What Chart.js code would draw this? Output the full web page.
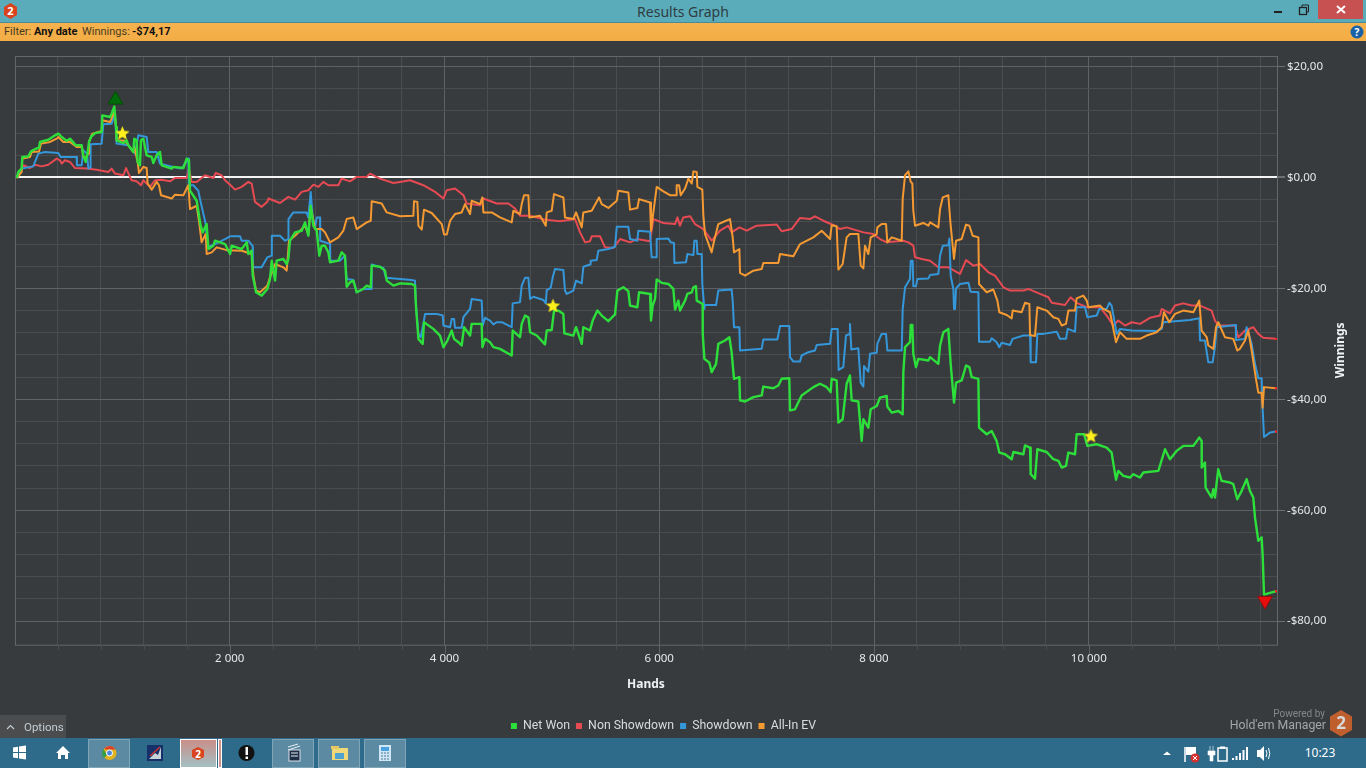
<!DOCTYPE html>
<html>
<head>
<meta charset="utf-8">
<title>Results Graph</title>
<script src="https://cdn.jsdelivr.net/npm/chart.js@4/dist/chart.umd.min.js"></script>
<style>
html,body{margin:0;padding:0;width:1366px;height:768px;overflow:hidden;background:#383b3e;font-family:"Noto Sans",sans-serif}
.abs{position:absolute}
#titlebar{left:0;top:0;width:1366px;height:22px;background:#5aacbb;border-bottom:1px solid #4b8a97}
#ttl{left:0;top:2px;width:1366px;text-align:center;font-size:14px;line-height:20px;color:#2f3d42}
#close{left:1318px;top:0;width:45px;height:19px;background:#c75050}
#filter{left:0;top:23px;width:1366px;height:18px;background:linear-gradient(#f5b24e,#f3ad45);font-family:Roboto,sans-serif;font-size:11px;line-height:18px;color:#4a3a20}
#filter b{color:#111}
#filter span{position:absolute;top:0;white-space:nowrap}
#chart{position:absolute;left:0;top:41px}
#options{left:0;top:715px;width:66px;height:23px;background:#4a4c4e;color:#c4ccd2;font-family:Roboto,sans-serif;font-size:11.5px;line-height:25px}
#options span{position:absolute;left:24px}
#pow{left:1130px;top:707px;width:195px;text-align:right;font-family:Roboto,sans-serif;font-size:10px;line-height:13px;color:#85888a}
#hem{left:1130px;top:717px;width:196px;text-align:right;font-family:Roboto,sans-serif;font-size:12.3px;line-height:17px;color:#a3a6a8}
#task{left:0;top:738px;width:1366px;height:30px;background:#2e6b8b}
.tb{position:absolute;top:1px;height:27px;border:1px solid #7fa5b8;background:#5b8aa2}
#clock{left:1300px;top:744px;width:40px;text-align:center;font-size:12px;line-height:18px;color:#fff}
</style>
</head>
<body>
<div id="titlebar" class="abs"></div>
<svg class="abs" style="left:3px;top:3px" width="15" height="16" viewBox="0 0 15 16"><polygon points="7.5,0 14,4 14,12 7.5,16 1,12 1,4" fill="#d9431e"/><text x="7.5" y="12" font-size="11" font-weight="bold" text-anchor="middle" fill="#fff" font-family="Noto Sans">2</text></svg>
<div id="ttl" class="abs">Results Graph</div>
<svg class="abs" style="left:1270px;top:4px" width="45" height="12"><rect x="4" y="7" width="8" height="2" fill="#222"/><rect x="29.5" y="3.5" width="7" height="7" fill="none" stroke="#222" stroke-width="1.3"/><path d="M32 3V1H38.5V8H37" fill="none" stroke="#222"/></svg>
<div id="close" class="abs"><svg width="45" height="19"><path d="M19 6L27 13M27 6L19 13" stroke="#fff" stroke-width="2"/></svg></div>
<div id="filter" class="abs"><span style="left:4px">Filter:</span><span style="left:34px"><b>Any date</b></span><span style="left:82px">Winnings:</span><span style="left:132px"><b>-$74,17</b></span></div>
<svg class="abs" style="left:1350px;top:25px" width="14" height="14"><circle cx="7" cy="7" r="6.5" fill="#1a62a8"/><text x="7" y="11" font-size="10" font-weight="bold" text-anchor="middle" fill="#fff" font-family="Noto Sans">?</text></svg>

<canvas id="chart" width="1366" height="697"></canvas>

<div id="options" class="abs"><svg class="abs" style="left:6px;top:9px" width="9" height="6"><path d="M1 5L4.5 1.5L8 5" fill="none" stroke="#c4ccd2" stroke-width="1.2"/></svg><span>Options</span></div>
<div id="pow" class="abs">Powered by</div>
<div id="hem" class="abs">Hold'em Manager</div>
<svg class="abs" style="left:1329px;top:710px" width="24" height="27"><polygon points="12,0 23,6.5 23,20 12,26.5 1,20 1,6.5" fill="#bf5f2e"/><text x="12" y="19" font-size="17" font-weight="bold" text-anchor="middle" fill="#d8d8d8" font-family="Noto Sans">2</text></svg>

<div id="task" class="abs">
<div class="tb" style="left:88px;width:40px"></div>
<div class="tb" style="left:180px;width:35px;background:linear-gradient(#c98f88,#a4c0c4);border-color:#fff"></div>
<div class="tb" style="left:218px;width:2px;background:#d08f88;border-color:#fff"></div>
<div class="tb" style="left:272px;width:40px"></div>
<div class="tb" style="left:318px;width:40px"></div>
<div class="tb" style="left:364px;width:40px"></div>
<svg class="abs" style="left:0;top:0" width="420" height="30">
<g fill="#fff"><path d="M13 9.5L18 8.7V14H13ZM19 8.5L26 7.5V14H19ZM13 15H18V20.3L13 19.5ZM19 15H26V21.5L19 20.5Z"/><path d="M56 15L63 8L70 15H68V21H65V17H61V21H58V15Z"/></g>
<circle cx="109.500" cy="15" r="7" fill="#e2b21e"/><path d="M109.500 8A7 7 0 0 1 115.500 11.500H109.500L106 11.500L104.200 10.500A7 7 0 0 1 109.500 8Z" fill="#d8402f"/><path d="M103.500 11L107 17L104 20A7 7 0 0 1 103.500 11Z" fill="#2f9e4a"/><circle cx="109.500" cy="15" r="3" fill="#4a86d8" stroke="#fff"/>
<rect x="147" y="7" width="16" height="16" fill="#16306a"/><path d="M149 21L155 15L158 17L161 9V21Z" fill="#c9d2d8"/><path d="M150 18L160 9" stroke="#c33" stroke-width="1.500"/>
<polygon points="198,9 204,12 204,19 198,22 192,19 192,12" fill="#d9431e"/><text x="198" y="19.500" font-size="10" font-weight="bold" text-anchor="middle" fill="#fff" font-family="Noto Sans">2</text>
<circle cx="246.500" cy="15" r="8" fill="#111"/><rect x="245.500" y="9" width="2.500" height="8" fill="#fff"/><rect x="245.500" y="18.500" width="2.500" height="2.500" fill="#fff"/>
<rect x="289" y="12" width="11" height="11" fill="#1c2f45" stroke="#dde" /><path d="M288 9L298 6M288 12L300 8M291 15H298M291 18H298" stroke="#e8eef2"/>
<rect x="332" y="10" width="16" height="12" fill="#f0d878"/><rect x="331" y="8" width="8" height="3" fill="#e6c860"/><rect x="335" y="15" width="9" height="6" fill="#4fa2d0"/>
<rect x="379" y="7" width="12" height="16" fill="#cfe6f5"/><rect x="381" y="9" width="8" height="4" fill="#4aa0dc"/><path d="M381 15H389M381 18H389M381 21H389" stroke="#4a7a9a" stroke-dasharray="2 1"/>
</svg>
<svg class="abs" style="left:1160px;top:0" width="120" height="30">
<path d="M3 17L7 13.500L11 17Z" fill="#fff"/>
<path d="M25 9V24" stroke="#fff" stroke-width="1.500"/><path d="M26 9H36V17H26Z" fill="#fff"/><circle cx="35" cy="20" r="4.500" fill="#d63030"/><path d="M33 18L37 22M37 18L33 22" stroke="#fff"/>
<path d="M50 8V13M53 8V13M48 13H55V17H53V23H50V17H48Z" fill="#fff" stroke="#fff" stroke-width=".6"/><rect x="58" y="10" width="9" height="13" fill="none" stroke="#fff" stroke-width="1.500"/><rect x="60" y="8.500" width="5" height="2" fill="#fff"/>
<path d="M72 20h2v2h-2zM75.500 18h2v4h-2zM79 15h2v7h-2zM82.500 12h2v10h-2zM86 9h2v13h-2z" fill="#fff"/>
<path d="M97 12H100L104 8V23L100 19H97Z" fill="#fff"/><path d="M106 12Q108 15.500 106 19M108.500 10Q111 15.500 108.500 21" stroke="#fff" fill="none"/>
</svg>
</div>
<div id="clock" class="abs">10:23</div>

<script>
const seriesNames = ['Net Won', 'Non Showdown', 'Showdown', 'All-In EV'];
const seriesColors = ['#2ddf3a', '#e64a52', '#3497da', '#f59a32'];
const yTickLabelStep = 20, xTickLabelStep = 2000;
const xGridTicks = [400,800,1200,1600,2000,2400,2800,3200,3600,4000,4400,4800,5200,5600,6000,6400,6800,7200,7600,8000,8400,8800,9200,9600,10000,10400,10800,11200,11600];
const yGridTicks = [-80,-76,-72,-68,-64,-60,-56,-52,-48,-44,-40,-36,-32,-28,-24,-20,-16,-12,-8,-4,0,4,8,12,16,20];

// [hands, winnings]
const netWon = [[16,-0.1],[31,1],[62,1.6],[68,3.7],[124,3.8],[149,4.7],[186,5.1],[224,5.4],[233,6.4],[310,6.8],[373,7.6],[404,7.9],[435,7.3],[481,6.6],[512,7],[553,6.1],[565,5.8],[621,5.8],[636,4],[658,2.8],[677,4.6],[689,6.4],[708,7.3],[745,8],[807,8.2],[813,11.2],[885,10.9],[900,11.5],[925,12.8],[941,9.1],[947,6.7],[1009,6.2],[1040,6.7],[1056,5.8],[1102,4.6],[1111,7],[1133,6.7],[1142,2.8],[1164,2.2],[1173,6.7],[1195,7],[1226,4],[1273,3.7],[1288,2.6],[1319,4],[1350,4.6],[1366,2.2],[1459,1.6],[1474,1.9],[1568,1.7],[1599,3.4],[1620,3.1],
[1630,-2.4],[1692,-4.2],[1729,-8.7],[1748,-9.9],[1785,-8.4],[1801,-12.9],[1847,-12.3],[1863,-11.4],[1956,-12],[2003,-13.8],[2018,-12.3],[2111,-12.9],[2158,-11.7],[2173,-13.8],[2204,-13.2],[2214,-17.7],[2245,-20.7],[2297,-21.3],[2350,-20.1],[2375,-18.3],[2391,-15],[2422,-18.6],[2437,-15],[2499,-14.7],[2530,-15.6],[2546,-14.7],[2561,-11.4],[2608,-9.9],[2670,-9.6],[2701,-8.1],[2732,-10.5],[2754,-5.1],[2779,-8.7],[2810,-9.6],[2834,-14.1],[2856,-12.3],[2887,-12.3],[2918,-13.5],[2934,-15.3],[3011,-15],[3042,-13.5],[3073,-14.1],[3089,-19.7],[3120,-18.9],[3151,-18.6],[3182,-20.7],[3244,-20.1],[3275,-19.5],[3313,-19.8],[3322,-15.9],[3399,-16.1],[3446,-16.8],[3462,-18.6],[3524,-19.5],[3586,-19.1],[3694,-19.2],[3725,-19.5],
[3735,-23.4],[3757,-29.1],[3797,-30],[3809,-26.1],[3896,-27.3],[3958,-28.5],[3990,-30.6],[4027,-29.4],[4067,-27.6],[4089,-29.1],[4129,-29.7],[4160,-30.3],[4182,-27],[4238,-28.5],[4253,-26.4],[4346,-26.4],[4353,-30.6],[4378,-29.1],[4424,-29.7],[4455,-30.6],[4517,-30.9],[4626,-32.1],[4635,-27.6],[4703,-28.8],[4719,-26.4],[4750,-24.9],[4781,-25.2],[4797,-27.9],[4859,-28.5],[4936,-30.1],[4952,-27.6],[4998,-27.5],[5020,-24],[5060,-24],[5107,-24.6],[5116,-28.1],[5200,-28.5],[5225,-27],[5278,-30],[5293,-27],[5355,-27.6],[5380,-25.8],[5424,-24],[5464,-24.9],[5526,-25.9],[5588,-24.7],[5610,-20.4],[5666,-19.8],[5712,-20.5],[5728,-23.1],[5796,-23.4],[5812,-20.7],[5914,-21],
[5923,-25.8],[5939,-23.1],[5961,-21.9],[5976,-18.4],[6023,-19],[6085,-19.2],[6131,-20.1],[6147,-23.8],[6178,-22.2],[6193,-24],[6240,-22.2],[6262,-21],[6302,-20.7],[6318,-19.8],[6342,-19.6],[6349,-22.2],[6404,-22.8],[6405,-28.2],[6420,-32.7],[6467,-33.4],[6488,-35.1],[6529,-33.6],[6550,-30],[6612,-29.4],[6653,-28.8],[6674,-31.5],[6696,-36.3],[6746,-36],[6752,-40.2],[6799,-40.4],[6876,-39.6],[6954,-39.3],[6969,-37.7],[7062,-38],[7109,-37.5],[7140,-36.3],[7211,-36.2],[7218,-42],[7264,-41.8],[7326,-39.3],[7435,-37.8],[7497,-37.2],[7559,-37.8],[7596,-38.7],[7606,-36.3],[7652,-36.6],[7668,-44.2],[7708,-43.6],[7745,-37.2],[7776,-35.7],[7792,-40.2],[7854,-40.4],[7885,-47.5],[7901,-43.6],[7947,-45.1],[7969,-41.8],[8025,-41.2],[8056,-39.7],[8118,-39.4],
[8124,-41.3],[8165,-42.4],[8227,-42.1],[8267,-42.7],[8273,-35.1],[8289,-30.6],[8335,-29.7],[8342,-26.6],[8357,-26.6],[8366,-31.8],[8391,-34.2],[8413,-32.7],[8506,-33],[8522,-32.4],[8599,-33.6],[8615,-30.3],[8646,-27.9],[8692,-27.3],[8714,-33.6],[8745,-40.6],[8764,-37],[8816,-36.6],[8857,-33.9],[8888,-34.2],[8910,-36],[8972,-36.3],[8978,-45.1],[9049,-46.3],[9096,-45.7],[9142,-47.5],[9167,-49.6],[9220,-49.9],[9282,-50.8],[9298,-49.5],[9391,-49.9],[9406,-48.3],[9453,-48.7],[9459,-53.5],[9499,-54.3],[9521,-49],[9608,-49.5],[9670,-50.8],[9717,-51.1],[9748,-52.3],[9788,-52],[9810,-49.6],[9872,-49.9],[9887,-46.3],[9956,-46.3],[9987,-48.4],[10074,-48.1],[10167,-48.7],[10213,-49.6],
[10229,-51.6],[10254,-54.5],[10275,-52.9],[10322,-53.8],[10384,-54.1],[10415,-53.5],[10477,-54.1],[10508,-53.2],[10648,-52.9],[10710,-49],[10756,-50.8],[10818,-49.3],[10880,-48.4],[10974,-48.4],[11029,-46.9],[11051,-47.5],[11052,-52.3],[11082,-51.4],[11088,-55.9],[11144,-57.7],[11160,-56.2],[11175,-57.7],[11206,-52.6],[11237,-54.7],[11315,-55],[11346,-55.3],[11383,-58],[11424,-56.5],[11470,-54.4],[11501,-56.5],[11532,-57.7],[11548,-61.3],[11579,-65.5],[11610,-64.9],[11619,-67.9],[11632,-75.2],[11687,-74.9],[11743,-74.6]];

const nonShowdown = [[16,-0.1],[62,1.6],[78,2.2],[140,1.7],[186,2.3],[248,2],[310,2.3],[388,3.4],[419,3.1],[435,2.5],[466,3.1],[512,2.8],[559,1.7],[667,1.6],[761,1.4],[869,1],[900,1.6],[931,0.7],[1009,0.4],[1034,1.7],[1071,0.1],[1086,-0.5],[1133,-0.7],[1173,-1.4],[1195,-0.5],[1257,-1.7],[1304,-0.5],[1366,-0.4],[1443,-0.7],[1490,-0.1],[1599,-0.1],[1620,1.6],[1645,-0.8],[1692,-0.8],[1769,0.4],[1847,-0.1],[1869,0.8],[1924,0.4],[1956,-0.5],[2003,-1.3],[2049,-2.2],[2111,-1.7],[2173,-0.8],[2204,-1.1],[2235,-4.4],[2297,-5.3],[2350,-4.4],[2360,-3.8],[2468,-4.6],[2546,-3.5],[2608,-4],[2670,-2.6],[2732,-2.3],[2779,-1.3],[2825,-1.7],[2872,-0.8],[2918,-1.4],[3011,-1.4],[3042,-0.2],[3120,-0.7],[3182,0.1],[3275,0.1],[3306,0.7],[3399,-0.2],[3524,-1],[3586,-0.8],[3679,-0.5],[3803,-1.4],[3912,-2.6],[3990,-3.8],[4021,-2.3],[4098,-2],[4176,-3.2],[4207,-4.7],[4331,-5],[4362,-3.8],[4486,-4.7],[4595,-4.7],[4657,-5.6],[4703,-6.9],[4797,-6.9],[4936,-7.6],[5076,-7.9],[5216,-7.5],[5262,-9.9],[5309,-11.7],[5355,-11.5],[5371,-10.6],[5448,-10.6],[5495,-12.6],[5573,-12.7],[5635,-11.1],[5728,-11.7],[5790,-11.1],[5914,-11.5],[5945,-7.5],[6038,-8.2],[6147,-8.4],[6169,-7.2],[6193,-8.7],[6224,-7.2],[6287,-7],[6333,-8.4],[6411,-9.3],[6488,-11.4],[6566,-9.6],[6643,-8.7],[6674,-9.9],[6746,-9],[6814,-9.6],[6907,-8.7],[7094,-8.5],[7140,-9.7],[7233,-9.3],[7311,-7.3],[7404,-7.5],[7450,-7],[7528,-7.8],[7637,-8.7],[7683,-9.3],[7745,-9],[7901,-9.9],[7994,-10.2],[8056,-11.1],[8118,-11.7],[8273,-11.4],[8320,-11.7],[8366,-12.3],[8382,-14.4],[8444,-14.7],[8522,-15],[8599,-16.2],[8692,-16.2],[8801,-17.4],[8857,-14.9],[8925,-15.9],[8987,-15.6],[9065,-17.1],[9127,-17.7],[9205,-19.8],[9267,-20.4],[9391,-20.4],[9437,-20.1],[9546,-21],[9624,-21.6],[9655,-22.6],[9779,-23],[9831,-21.6],[9887,-22.6],[9981,-23.4],[10105,-23.4],[10167,-24.9],[10229,-26.7],[10275,-25.8],[10337,-26.7],[10400,-26.1],[10477,-26.4],[10570,-25.3],[10663,-24.9],[10679,-23.7],[10756,-24.5],[10803,-23.1],[10880,-22.7],[10958,-23.1],[11036,-23.1],[11144,-24],[11175,-25.8],[11206,-26.7],[11361,-26.7],[11393,-28.8],[11455,-27.6],[11532,-27],[11579,-28.2],[11625,-28.9],[11743,-29.1]];

const showdown = [[16,-0.1],[62,1.6],[170,2],[217,4.3],[279,4.6],[403,4.4],[425,3.7],[574,3.7],[577,2.2],[621,2.2],[636,4.9],[670,4.3],[683,1.6],[700,1.8],[704,6],[807,6.1],[822,9.6],[900,9.7],[931,11.5],[946,6.1],[1055,5.8],[1117,4.3],[1148,7.6],[1226,7.3],[1241,4.6],[1319,4.6],[1350,2.5],[1474,1.9],[1552,1.6],[1614,3.4],[1620,-1.4],[1661,-1.4],[1707,-2.4],[1723,-3.9],[1776,-8.4],[1794,-12.6],[1862,-12],[1956,-11.1],[2003,-10.6],[2096,-10.6],[2111,-11.4],[2173,-11.4],[2214,-12.4],[2215,-16.2],[2297,-16.2],[2350,-14.4],[2391,-14.1],[2392,-10.5],[2468,-10.5],[2515,-11.4],[2546,-11.1],[2547,-7.5],[2592,-6.3],[2716,-6.3],[2732,-7.2],[2754,-2.6],[2772,-7.2],[2794,-9],[2810,-7.2],[2841,-7.2],[2842,-11.4],[2934,-12],[2935,-15],[3027,-15],[3073,-14.1],[3089,-18.3],[3151,-18.5],[3182,-20.7],[3244,-20.1],[3321,-20.1],[3322,-15.7],[3430,-16.3],[3455,-18.1],[3586,-18.3],[3694,-18.5],[3725,-18.6],[3735,-23.3],[3757,-28.2],[3778,-28.8],[3803,-26.4],[3819,-24.6],[3927,-24.6],[3983,-24.9],[3990,-26.7],[4052,-27],[4067,-25.5],[4089,-25.5],[4098,-27.1],[4160,-27.1],[4176,-25.2],[4238,-23.7],[4253,-21.9],[4346,-22.2],[4356,-26.7],[4378,-25.3],[4424,-25.8],[4455,-26.5],[4486,-26.1],[4533,-26.1],[4626,-27],[4635,-22.7],[4703,-22.5],[4719,-19.5],[4750,-18.1],[4781,-18.1],[4797,-21.9],[4828,-21.5],[4921,-22.1],[4943,-22.7],[4952,-20.3],[4989,-19.9],[5008,-18],[5029,-16.5],[5107,-16.7],[5122,-20.4],[5138,-21],[5200,-20.4],[5225,-18.6],[5278,-19.1],[5293,-16.1],[5355,-15.7],[5361,-15],[5417,-14.9],[5433,-13.2],[5526,-12.9],[5588,-12.5],[5604,-8.9],[5712,-8.9],[5728,-11.1],[5796,-11.4],[5805,-9.6],[5914,-9.8],[5929,-14.4],[5970,-14.4],[5976,-11.1],[6085,-11],[6106,-11.7],[6137,-11.8],[6141,-15.4],[6249,-15.3],[6262,-13.8],[6318,-14],[6327,-11.4],[6349,-11.4],[6355,-13.8],[6395,-13.8],[6401,-19.2],[6420,-23.7],[6426,-23],[6529,-23],[6550,-20.4],[6674,-20.2],[6684,-22.2],[6696,-27],[6746,-27],[6752,-31.2],[6954,-30.9],[6969,-29.2],[7100,-29.2],[7125,-26.8],[7211,-26.8],[7218,-32.4],[7249,-33.2],[7311,-33.2],[7326,-32.1],[7388,-31.5],[7450,-31.2],[7466,-30.2],[7590,-30],[7606,-27.3],[7661,-27.3],[7671,-34.7],[7714,-34.2],[7739,-28.5],[7775,-28.2],[7776,-26.4],[7789,-31],[7854,-30.8],[7876,-37],[7901,-37.7],[7907,-34],[7947,-35],[7963,-31.8],[8025,-31.6],[8031,-30],[8071,-28.2],[8112,-28.2],[8124,-31.2],[8258,-31.2],[8267,-23.8],[8289,-19.8],[8335,-18.3],[8342,-15],[8360,-15],[8366,-19.6],[8391,-19.6],[8404,-18.3],[8506,-18.2],[8522,-17.6],[8599,-17.4],[8615,-14.1],[8640,-12.3],[8692,-12.2],[8702,-11],[8714,-17.7],[8739,-20.1],[8745,-23.7],[8755,-23.7],[8764,-20],[8801,-19.2],[8879,-19],[8900,-20.6],[8972,-20.7],[8978,-29.6],[9080,-29.6],[9096,-29],[9142,-29.7],[9167,-30.6],[9189,-29.8],[9267,-30.2],[9291,-29.1],[9391,-28.5],[9453,-28.5],[9459,-33.3],[9509,-33.3],[9521,-28.2],[9577,-28.2],[9701,-27.8],[9732,-29.1],[9788,-29.1],[9804,-27.3],[9872,-27.8],[9887,-23.4],[9965,-23.4],[9987,-25.2],[10074,-24.9],[10098,-23.7],[10167,-23.7],[10192,-22.6],[10213,-23.1],[10244,-26.4],[10260,-28.2],[10291,-27.3],[10400,-27.6],[10632,-27.7],[10679,-27.3],[10694,-26.1],[10942,-25.7],[11030,-25.4],[11036,-29.4],[11082,-29.4],[11113,-33.3],[11154,-33.3],[11175,-30.6],[11191,-27],[11370,-26.6],[11371,-29.3],[11455,-29.1],[11470,-27],[11517,-30],[11548,-33.6],[11579,-36.2],[11610,-36.2],[11619,-41.5],[11632,-46.8],[11687,-46],[11743,-45.8]];

const allInEV = [[16,-0.1],[62,1],[68,3.4],[140,3.7],[155,4.6],[224,4.7],[242,6.1],[326,6.4],[388,7],[404,7.3],[450,6.4],[512,6.4],[574,5.5],[621,5.5],[636,3.7],[652,3.4],[683,4.3],[689,6.4],[720,7.9],[807,8.4],[813,10.3],[885,10],[900,10.6],[925,12.1],[941,9.1],[947,6.7],[1024,6.6],[1056,5.8],[1102,4.6],[1111,5.5],[1142,2.8],[1155,0.8],[1195,1.9],[1226,1.7],[1235,-1.1],[1273,-2.2],[1319,-0.8],[1341,-1.4],[1360,-3.2],[1459,-3.8],[1490,-3.1],[1568,-3.2],[1614,-1.4],[1630,-5.7],[1692,-5.1],[1713,-7.8],[1738,-11.7],[1776,-10.2],[1785,-13.8],[1832,-13.5],[1878,-12.6],[1972,-13.1],[2111,-13.2],[2204,-13.8],[2220,-17.7],[2245,-20.4],[2282,-20.7],[2350,-19.5],[2375,-18],[2422,-15.6],[2499,-16.2],[2530,-16.8],[2552,-11.4],[2608,-10.5],[2701,-8.7],[2732,-10.2],[2754,-5.3],[2794,-9.3],[2856,-9.3],[2887,-9.9],[2934,-11.7],[3011,-10.8],[3058,-9.6],[3089,-7.5],[3151,-7.2],[3182,-9.3],[3275,-8.1],[3313,-7.8],[3322,-4.3],[3415,-4.7],[3462,-6.3],[3586,-7],[3710,-6.9],[3716,-4.3],[3747,-4.4],[3757,-8.7],[3788,-9.4],[3809,-5.8],[3881,-6.4],[3974,-8.4],[3996,-10.3],[4021,-10.3],[4052,-7.8],[4098,-6.6],[4160,-6.3],[4191,-4.8],[4238,-6.6],[4253,-4.2],[4331,-4.8],[4353,-3.6],[4362,-6.3],[4440,-6.3],[4517,-7.2],[4626,-8.1],[4641,-6],[4703,-6.6],[4719,-4.8],[4741,-3.2],[4781,-3.2],[4790,-7.2],[4890,-6.9],[4943,-8.7],[4952,-6.3],[4998,-6],[5020,-3],[5107,-3.6],[5122,-7.2],[5200,-7.5],[5225,-6.3],[5278,-9],[5293,-6.3],[5371,-6],[5439,-3.6],[5464,-4.8],[5526,-5.5],[5604,-4.2],[5619,-2.4],[5712,-2.7],[5728,-5.8],[5796,-5.5],[5812,-3.9],[5914,-4.5],[5923,-9.6],[5976,-1.7],[6038,-2.5],[6100,-3.2],[6156,-3.2],[6162,-1.4],[6185,-1.4],[6200,-3.2],[6240,-2],[6271,-0.2],[6302,-1.1],[6318,1.1],[6349,1],[6355,-1.7],[6401,-2.2],[6411,-6.9],[6426,-10.2],[6488,-13.5],[6504,-12],[6550,-8.4],[6622,-7.8],[6659,-7.5],[6684,-10.8],[6696,-13.5],[6746,-12.9],[6752,-17.2],[6799,-17.7],[6876,-16.8],[6954,-16.5],[6969,-15.4],[7109,-15.4],[7125,-13.8],[7249,-14.2],[7311,-12],[7435,-10.8],[7513,-9.6],[7590,-11.1],[7606,-8.6],[7652,-8.8],[7668,-16.6],[7708,-15.6],[7745,-10.8],[7776,-10.2],[7854,-10.2],[7876,-15.9],[7901,-16.4],[7916,-12.3],[7947,-13.8],[7969,-10.8],[8025,-10.2],[8031,-9],[8071,-8.4],[8112,-8.4],[8124,-11.7],[8165,-10.8],[8258,-11.4],[8267,-3.9],[8289,0.4],[8320,1.1],[8342,-0.8],[8357,-1.1],[8366,-6],[8382,-8.7],[8459,-8.2],[8506,-8.7],[8522,-8.1],[8599,-9],[8615,-5.7],[8640,-3.6],[8692,-3.2],[8714,-8.7],[8745,-14.7],[8764,-11.4],[8816,-11.1],[8857,-8.5],[8888,-8.7],[8919,-10.5],[8972,-10.8],[8978,-19.2],[9049,-20.7],[9111,-20.2],[9149,-22.2],[9167,-24.3],[9236,-24.8],[9282,-25.4],[9291,-24],[9375,-24.3],[9406,-22.6],[9447,-22.8],[9453,-28.4],[9499,-28.6],[9521,-23.4],[9608,-24],[9670,-25.2],[9717,-25.5],[9748,-26.7],[9788,-26.4],[9810,-24],[9872,-24],[9887,-21.8],[9949,-21.3],[9981,-22.2],[9996,-23.4],[10105,-23.1],[10136,-23.7],[10198,-24.3],[10254,-29.7],[10291,-27.9],[10353,-29.1],[10477,-29.1],[10539,-28.5],[10632,-27.9],[10679,-27],[10700,-24.3],[10750,-26.1],[10803,-24.6],[10880,-24],[10974,-24.3],[11029,-22.2],[11051,-27.6],[11098,-28.8],[11113,-30.3],[11160,-30.9],[11185,-27],[11206,-26.1],[11268,-28.8],[11346,-29.1],[11383,-31.2],[11408,-30.9],[11455,-29.4],[11486,-27.6],[11517,-31.2],[11557,-36.3],[11579,-38.8],[11610,-38.8],[11619,-41.5],[11632,-37.8],[11743,-38]];

const starPoints = [[1000,8],[5010,-23.1],[10020,-46.6]];
const peakPoints = [[936,14]];
const troughPoints = [[11641,-76.3]];

const asXY = rows => rows.map(r => ({x: r[0], y: r[1]}));
const asTicks = list => list.map(v => ({value: v}));

function starImage(size, color) {
  const c = document.createElement('canvas');
  c.width = c.height = size;
  const g = c.getContext('2d');
  const R = size / 2, r = R * 0.45;
  g.beginPath();
  for (let i = 0; i < 10; i++) {
    const a = -Math.PI / 2 + i * Math.PI / 5, q = i % 2 ? r : R;
    g.lineTo(R + q * Math.cos(a), R + 0.5 + q * Math.sin(a));
  }
  g.closePath();
  g.fillStyle = color;
  g.fill();
  return c;
}

const lineSet = (i, rows, width, order) => ({
  label: seriesNames[i],
  data: asXY(rows),
  borderColor: seriesColors[i],
  backgroundColor: seriesColors[i],
  borderWidth: width,
  order,
  tension: 0,
  borderJoinStyle: 'round',
  pointRadius: c => c.dataIndex === rows.length - 1 ? 1.2 : 0,
  pointBackgroundColor: '#ff2020',
  pointBorderWidth: 0,
  pointHoverRadius: 0
});
const markerSet = (label, rows, extra) => Object.assign({
  label, data: asXY(rows), showLine: false, order: -1, pointBorderWidth: 1
}, extra);

const frameAndTitle = {
  id: 'frameAndTitle',
  beforeDatasetsDraw(chart) {
    const {ctx, chartArea: a, scales} = chart;
    ctx.save();
    ctx.lineWidth = 1;
    ctx.strokeStyle = '#64676a';
    ctx.strokeRect(a.left + .5, a.top + .5, a.right - a.left, a.bottom - a.top);
    scales.x.ticks.forEach(t => {
      const major = t.value % xTickLabelStep === 0;
      const px = Math.round(scales.x.getPixelForValue(t.value)) + .5;
      ctx.strokeStyle = major ? '#5f6265' : '#4a4d50';
      ctx.beginPath();
      ctx.moveTo(px, a.bottom);
      ctx.lineTo(px, a.bottom + (major ? 9 : 5));
      ctx.stroke();
    });
    ctx.restore();
  },
  afterLayout(chart) {
    const l = chart.legend;
    const dx = 663.5 - (l.left + l.right) / 2;
    l.left += dx; l.right += dx;
    const dy = 687 - (l.top + l.bottom) / 2;
    l.top += dy; l.bottom += dy;
  },
  afterDraw(chart) {
    const {ctx, chartArea: a} = chart, t = chart.options.scales.y.title;
    ctx.save();
    ctx.translate(1341, (a.top + a.bottom) / 2);
    ctx.rotate(-Math.PI / 2);
    ctx.font = 'bold 12px "Noto Sans"';
    ctx.fillStyle = '#eef2f4';
    ctx.textAlign = 'center';
    ctx.textBaseline = 'middle';
    ctx.fillText(t.text, 0, 0);
    ctx.restore();
  }
};

new Chart(document.getElementById('chart'), {
  type: 'line',
  data: {datasets: [
    lineSet(0, netWon, 2.4, 0),
    lineSet(1, nonShowdown, 2, 3),
    lineSet(2, showdown, 2, 2),
    lineSet(3, allInEV, 2, 1),
    markerSet('Session high', peakPoints, {pointStyle: 'triangle', pointRadius: 8.5, pointBackgroundColor: '#006b0a', pointBorderColor: '#004d06'}),
    markerSet('Session low', troughPoints, {pointStyle: 'triangle', rotation: 180, pointRadius: 8.5, pointBackgroundColor: '#e80d0d', pointBorderColor: '#8c1010'}),
    markerSet('Milestones', starPoints, {pointStyle: starImage(15, '#ffef1a'), pointRadius: 7})
  ]},
  plugins: [frameAndTitle],
  options: {
    responsive: false,
    animation: false,
    devicePixelRatio: 1,
    layout: {padding: {left: 15, top: 15, right: 0, bottom: 0}},
    plugins: {
      tooltip: {enabled: false},
      legend: {
        position: 'bottom',
        labels: {
          boxWidth: 6, boxHeight: 6, padding: 6, color: '#d8dcde',
          font: {family: 'Roboto', size: 12.3},
          generateLabels: chart => Chart.defaults.plugins.legend.labels.generateLabels(chart).map(i => Object.assign(i, {lineWidth: 0})),
          filter: item => item.datasetIndex < 4,
          sort: (a, b) => a.datasetIndex - b.datasetIndex
        }
      }
    },
    scales: {
      x: {
        type: 'linear', min: 0, max: 11753,
        afterBuildTicks(s) { s.ticks = asTicks(xGridTicks); },
        afterFit(s) { s.height = 65; },
        title: {display: true, text: 'Hands', color: '#eef2f4', font: {family: '"Noto Sans"', size: 12, weight: 'bold'}, padding: {top: 0, bottom: 18}},
        border: {display: false},
        grid: {
          drawTicks: false,
          color: c => c.tick && c.tick.value % xTickLabelStep === 0 ? '#5f6265' : '#4a4d50',
          lineWidth: 1
        },
        ticks: {
          autoSkip: false, maxRotation: 0, padding: 7,
          color: '#e4e8ea', font: {family: '"Noto Sans"', size: 11.5},
          callback: v => v % xTickLabelStep === 0 ? String(v).replace(/\B(?=(\d{3})+$)/g, ' ') : ''
        }
      },
      y: {
        type: 'linear', position: 'right', min: -84.24, max: 21.9,
        afterBuildTicks(s) { s.ticks = asTicks(yGridTicks); },
        afterFit(s) { s.width = 89; },
        title: {display: false, text: 'Winnings'},
        border: {display: false},
        grid: {
          tickLength: 8,
          color: c => c.tick && c.tick.value === 0 ? '#f4f4f4' : (c.tick && c.tick.value % yTickLabelStep === 0 ? '#5f6265' : '#4a4d50'),
          tickColor: c => c.tick && c.tick.value % yTickLabelStep === 0 ? '#6e7174' : 'transparent',
          lineWidth: c => c.tick && c.tick.value === 0 ? 2 : 1
        },
        ticks: {
          autoSkip: false, padding: 2,
          color: '#e4e8ea', font: {family: '"Noto Sans"', size: 11.5},
          callback: v => {
            if (v % yTickLabelStep !== 0) return '';
            const s = '$' + Math.abs(v) + ',00';
            return v < 0 ? '-' + s : s;
          }
        }
      }
    }
  }
});
</script>
</body>
</html>
